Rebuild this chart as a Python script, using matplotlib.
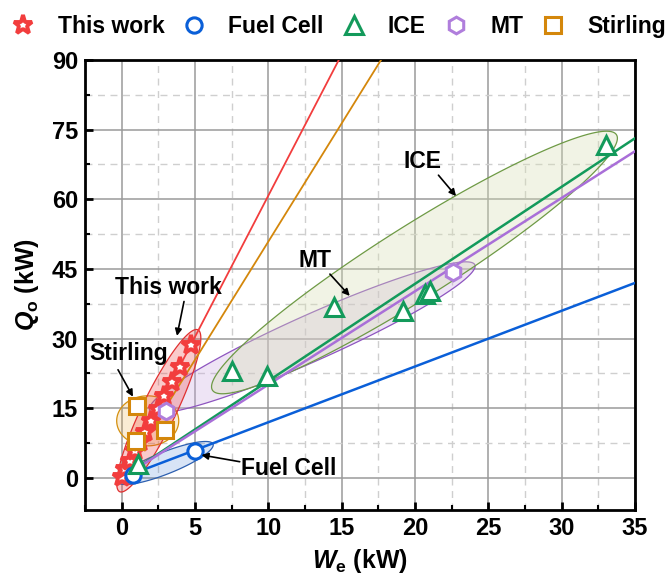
import numpy as np
import matplotlib.pyplot as plt
from matplotlib.patches import Polygon
from matplotlib.colors import to_rgba
from matplotlib.ticker import MultipleLocator

plt.rcParams['font.family'] = ['Liberation Sans', 'DejaVu Sans']
plt.rcParams['font.weight'] = 'bold'
plt.rcParams['mathtext.fontset'] = 'custom'
plt.rcParams['mathtext.it'] = 'Liberation Sans:italic:bold'
plt.rcParams['mathtext.rm'] = 'Liberation Sans:bold'
plt.rcParams['mathtext.bf'] = 'Liberation Sans:bold'

# electric output W_e (kW) vs heat output Q_o (kW)
work_we = [0.0, 0.25, 0.55, 0.9, 1.25, 1.6, 2.0, 2.45, 2.9, 3.4, 3.95, 4.75]
work_qo = [0.3, 1.9, 3.6, 5.7, 7.8, 9.9, 12.2, 14.9, 17.6, 20.6, 24.0, 28.6]
fc_we = [0.8, 5.0]
fc_qo = [0.6, 5.8]
ice_we = [1.1, 7.5, 9.9, 14.5, 19.2, 20.7, 21.0, 33.0]
ice_qo = [3.0, 23.1, 22.0, 36.8, 35.9, 39.6, 40.3, 71.6]
mt_we = [3.0, 22.6]
mt_qo = [14.4, 44.3]
stir_we = [1.05, 0.95, 2.93]
stir_qo = [15.6, 8.0, 10.3]

# slope k of the fitted line Q_o = k * W_e
fit_k = [6.08, 1.20, 2.09, 2.01, 5.09]

names = ['This work', 'Fuel Cell', 'ICE', 'MT', 'Stirling']
colors = ['#F23D3D', '#0A5FD8', '#139A5B', '#B07EDC', '#D4870B']
markers = ['*', 'o', '^', 'h', 's']
msize = [14, 11, 13, 12, 11]
medge = [2.8, 2.2, 2.2, 2.2, 2.2]
fit_lw = [1.3, 1.8, 1.8, 1.8, 1.3]
fit_color = ['#F23D3D', '#0A5FD8', '#139A5B', '#A96FD8', '#D4870B']
series = [(work_we, work_qo), (fc_we, fc_qo), (ice_we, ice_qo),
          (mt_we, mt_qo), (stir_we, stir_qo)]

fig = plt.figure(figsize=(6.71, 5.77), dpi=100)
ax = fig.add_axes([0.1267, 0.1161, 0.8196, 0.7799])
ax.set_xlim(-2.5, 35)
ax.set_ylim(-6.9, 90)


def group_ellipse(p1, p2, half_w, fc, ec, alpha):
    # ellipse drawn in screen space between two data points
    a = ax.transData.transform(p1)
    b = ax.transData.transform(p2)
    c = (a + b) / 2
    d = b - a
    L = np.hypot(*d)
    u = d / L
    n = np.array([-u[1], u[0]])
    t = np.linspace(0, 2 * np.pi, 240)
    w = half_w * fig.dpi / 100
    pts = c + np.outer(L / 2 * np.cos(t), u) + np.outer(w * np.sin(t), n)
    pts = ax.transData.inverted().transform(pts)
    ax.add_patch(Polygon(pts, closed=True, facecolor=to_rgba(fc, alpha),
                         edgecolor=ec, lw=0.9, zorder=2))


group_ellipse((1.91, 14.6), (24.08, 45.9), 23, '#C9A6E0', '#8E55C0', 0.30)
group_ellipse((6.19, 18.9), (33.74, 73.9), 36, '#D8DFB5', '#6E9A45', 0.35)
group_ellipse((-0.27, -0.86), (6.23, 7.3), 11, '#3C78D2', '#2C5FB0', 0.20)
group_ellipse((-0.34, 12.3), (3.89, 12.3), 25, '#E6A028', '#D4900F', 0.20)
group_ellipse((-0.14, -2.95), (5.2, 31.9), 17, '#F03C3C', '#E03030', 0.27)

# fitted lines
xs = np.array([0, 35])
for k, c, lw in zip(fit_k, fit_color, fit_lw):
    ax.plot(xs, k * xs, color=c, lw=lw, zorder=3)

handles = []
for (x, y), nm, c, m, s, mw in zip(series, names, colors, markers, msize, medge):
    h, = ax.plot(x, y, ls='none', marker=m, ms=s, mfc='white', mec=c,
                 mew=mw, label=nm, zorder=5)
    handles.append(h)

# group labels with arrows
labels = [('This work', (3.16, 41.1), (4.25, 38.0), (3.77, 30.6)),
          ('Stirling', (0.45, 26.9), (-0.25, 23.3), (0.77, 17.5)),
          ('Fuel Cell', (11.4, 2.1), (8.05, 3.5), (5.44, 4.95)),
          ('MT', (13.2, 46.9), (14.2, 43.9), (15.55, 39.2)),
          ('ICE', (20.5, 68.1), (21.6, 65.2), (22.8, 60.7))]
for txt, pos, tail, head in labels:
    ax.text(*pos, txt, fontsize=16.5, fontweight='bold', ha='center',
            va='center', zorder=6)
    ax.annotate('', xy=head, xytext=tail, zorder=6,
                arrowprops=dict(arrowstyle='-|>', color='black', lw=1.2,
                                mutation_scale=10, shrinkA=0, shrinkB=0))

ax.xaxis.set_major_locator(MultipleLocator(5))
ax.xaxis.set_minor_locator(MultipleLocator(2.5))
ax.yaxis.set_major_locator(MultipleLocator(15))
ax.yaxis.set_minor_locator(MultipleLocator(7.5))
ax.grid(which='major', color='#9A9A9A', lw=1.1)
ax.grid(which='minor', color='#CFCFCF', lw=1.0, ls=(0, (5, 4)))
ax.set_axisbelow(True)

ax.tick_params(which='major', direction='in', length=6, width=2,
               labelsize=17, pad=5)
ax.tick_params(which='minor', direction='in', length=3.5, width=1.5)
for sp in ax.spines.values():
    sp.set_linewidth(2)

ax.set_xlabel(r'$W_\mathrm{e}$ (kW)', fontsize=18, fontweight='bold', labelpad=5)
ax.set_ylabel(r'$Q_\mathrm{o}$ (kW)', fontsize=18, fontweight='bold', labelpad=8)

fig.legend(handles=handles, loc='upper center', bbox_to_anchor=(0.505, 1.01),
           ncol=5, frameon=False, fontsize=16.5, handlelength=1.0,
           handletextpad=1.0, columnspacing=0.8)

fig.savefig('out.png', dpi=100)
